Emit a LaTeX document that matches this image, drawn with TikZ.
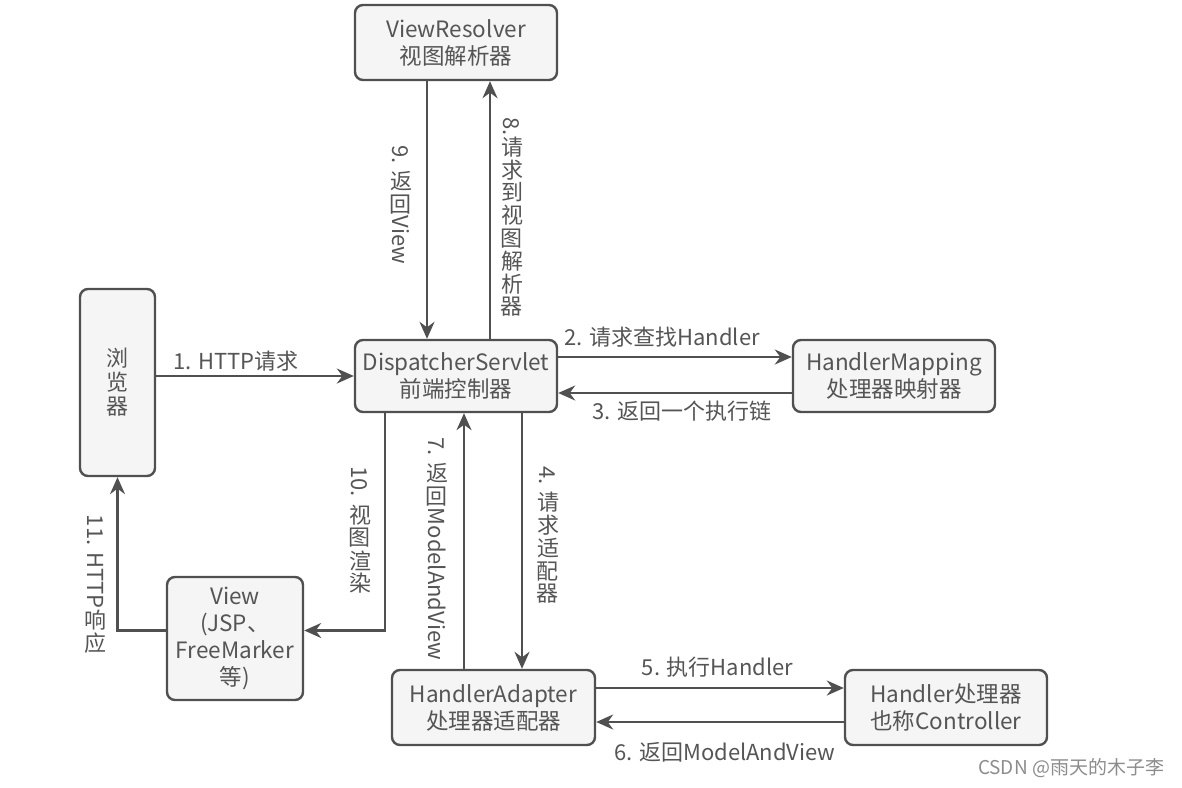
\documentclass[tikz,border=0pt]{standalone}
\usepackage{graphicx}
\usepackage{fontspec}
\setmainfont{Noto Sans CJK SC}
\usepackage{tikz}
\usetikzlibrary{arrows.meta, positioning, calc}
\usepackage{xcolor}
\definecolor{boxfill}{RGB}{245, 245, 245}
\definecolor{boxline}{RGB}{80, 80, 80}
\definecolor{textgray}{RGB}{85, 85, 85}
\newcommand{\upc}[1]{\makebox[1.04em]{\rotatebox[origin=c]{90}{#1}}}

\begin{document}
\begin{tikzpicture}[
    x=1pt, y=-1pt,
    box/.style={draw=boxline, fill=boxfill, rounded corners=8pt,
                line width=2.4pt, align=center, text=textgray,
                font=\fontsize{22.5}{27}\selectfont, inner sep=2pt},
    arrow/.style={-{Stealth[length=17pt, width=15pt]}, line width=2.4pt,
                  draw=boxline},
    lbl/.style={font=\fontsize{22}{27}\selectfont, text=textgray,
                inner sep=2pt},
  ]
    \useasboundingbox (0,0) rectangle (1182,787);

    % Boxes
    \node[box, minimum width=202pt, minimum height=75pt] (vr) at (456,42.5)
      {ViewResolver\\视图解析器};
    \node[box, minimum width=75pt, minimum height=187pt,
          font=\fontsize{22}{24}\selectfont] (br) at (117.5,382.5)
      {浏\\览\\器};
    \node[box, minimum width=202pt, minimum height=72pt] (ds) at (456,376)
      {DispatcherServlet\\前端控制器};
    \node[box, minimum width=202pt, minimum height=72pt] (hm) at (894,376)
      {HandlerMapping\\处理器映射器};
    \node[box, minimum width=136pt, minimum height=123pt] (view) at (235,638.5)
      {View\\(JSP、\\FreeMarker\\等)};
    \node[box, minimum width=203pt, minimum height=75pt] (ha) at (493.5,707.5)
      {HandlerAdapter\\处理器适配器};
    \node[box, minimum width=202pt, minimum height=75pt] (hd) at (946,707.5)
      {Handler处理器\\也称Controller};

    % Browser <-> DispatcherServlet
    \draw[arrow] (br.east |- ds.west) -- (ds.west)
      node[lbl, pos=.405, above=2pt] {1. HTTP请求};

    % DispatcherServlet <-> HandlerMapping
    \draw[arrow] ([yshift=19pt]ds.east) -- ([yshift=19pt]hm.west)
      node[lbl, pos=.445, above=7pt] {2. 请求查找Handler};
    \draw[arrow] ([yshift=-17pt]hm.west) -- ([yshift=-17pt]ds.east)
      node[lbl, pos=.47, below=5pt] {3. 返回一个执行链};

    % DispatcherServlet <-> HandlerAdapter
    \draw[arrow] ([xshift=66pt]ds.south) -- ([xshift=66pt]ds.south |- ha.north)
      node[lbl, pos=.48, xshift=26pt, rotate=-90]
      {4. \upc{请}\upc{求}\upc{适}\upc{配}\upc{器}};
    \draw[arrow] ([xshift=-29.5pt]ha.north) -- ([xshift=-29.5pt]ha.north |- ds.south)
      node[lbl, pos=.47, xshift=-27pt, rotate=-90]
      {7. \upc{返}\upc{回}ModelAndView};

    % HandlerAdapter <-> Handler
    \draw[arrow] ([yshift=19.5pt]ha.east) -- ([yshift=19.5pt]hd.west)
      node[lbl, pos=.49, above=7pt] {5. 执行Handler};
    \draw[arrow] ([yshift=-14.5pt]hd.west) -- ([yshift=-14.5pt]ha.east)
      node[lbl, pos=.48, below=17pt] {6. 返回ModelAndView};

    % DispatcherServlet <-> ViewResolver
    \draw[arrow] ([xshift=34pt]ds.north) -- ([xshift=34pt]vr.south)
      node[lbl, pos=.47, xshift=22pt, rotate=-90]
      {8.\upc{请}\upc{求}\upc{到}\upc{视}\upc{图}\upc{解}\upc{析}\upc{器}};
    \draw[arrow] ([xshift=-29pt]vr.south) -- ([xshift=-29pt]ds.north)
      node[lbl, pos=.48, xshift=-26pt, rotate=-90]
      {9. \upc{返}\upc{回}View};

    % Rendering and response
    \draw[arrow] ([xshift=-71pt]ds.south) |- ([yshift=8pt]view.east)
      node[lbl, pos=.27, xshift=-25pt, rotate=-90]
      {10. \upc{视}\upc{图}\upc{渲}\upc{染}};
    \draw[arrow] ([yshift=8pt]view.west) -| (br.south)
      node[lbl, pos=.65, xshift=-22pt, rotate=-90]
      {11. HTTP\upc{响}\upc{应}};

    % Watermark
    \node[font=\fontsize{19}{22}\selectfont, text=black!45] (mark) at (1071,768)
      {CSDN @雨天的木子李};
\end{tikzpicture}
\end{document}
